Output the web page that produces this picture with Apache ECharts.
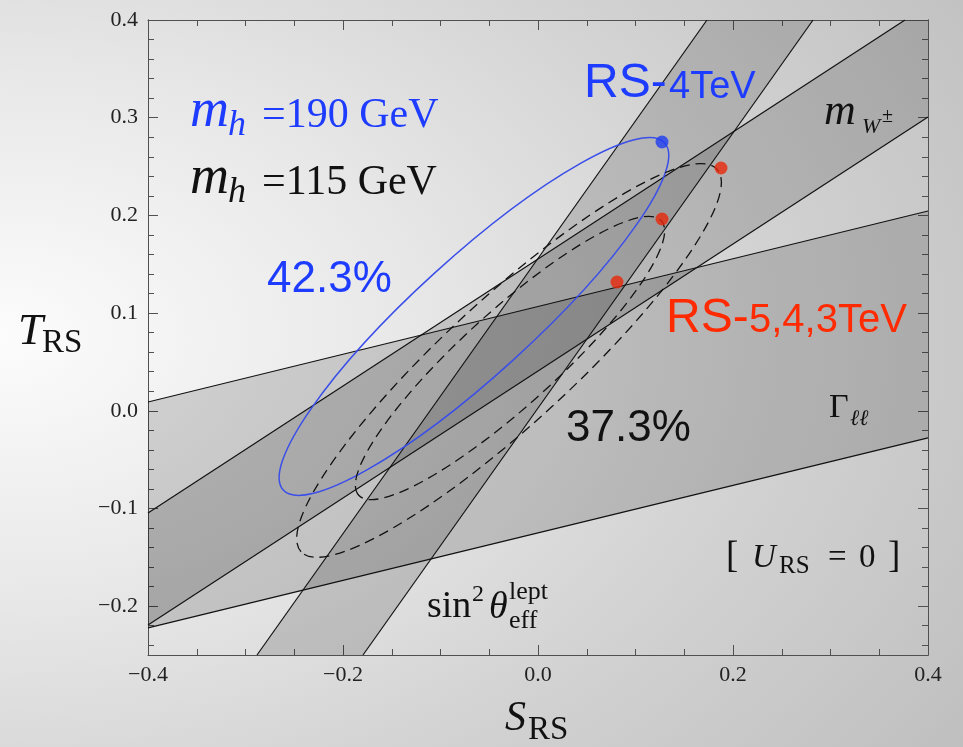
<!DOCTYPE html>
<html>
<head>
<meta charset="utf-8">
<script src="https://cdn.jsdelivr.net/npm/echarts@6/dist/echarts.min.js"></script>
<style>
  html, body {
    margin: 0;
    padding: 0;
  }
  body {
    width: 963px;
    height: 747px;
    background: radial-gradient(ellipse 120% 100% at 0% 45%, #fcfcfc 0%, #e8e8e8 35%, #d3d3d3 65%, #bfbfbf 100%);
  }
  #chart {
    width: 963px;
    height: 747px;
  }
</style>
</head>
<body>
<div id="chart"></div>
<script>
// axis ticks
const yMajorTicks = [-0.2, -0.1, 0, 0.1, 0.2, 0.3, 0.4];
const yMinorTicks = [
  -0.24, -0.22, -0.18, -0.16, -0.14, -0.12, -0.08, -0.06, -0.04, -0.02,
  0.02, 0.04, 0.06, 0.08, 0.12, 0.14, 0.16, 0.18, 0.22, 0.24, 0.26, 0.28,
  0.32, 0.34, 0.36, 0.38,
];

// band edges [S, T]
const sinLeft = [[-0.2882, -0.25], [0.1733, 0.4]];
const sinRight = [[-0.1795, -0.25], [0.2821, 0.4]];
const mwUpper = [[-0.4, -0.1046], [0.3764, 0.4]];
const mwLower = [[-0.4, -0.2192], [0.4, 0.3007]];
const gammaUpper = [[-0.4, 0.009], [0.4, 0.2045]];
const gammaLower = [[-0.4, -0.2223], [0.4, -0.0278]];
const plotCorner = [0.4, 0.4];

// ellipses: centre, semi axes, tilt (deg)
const ellipseCenters = [[-0.0657, 0.0965], [-0.0297, 0.0515], [-0.0287, 0.054]];
const ellipseAxes = [[0.2645, 0.06], [0.2898, 0.0645], [0.2095, 0.0484]];
const ellipseAngles = [42.3, 42.6, 42.2];

// RS points
const rsBlue = [[0.1272, 0.2751]];
const rsRed = [[0.1877, 0.2485], [0.1272, 0.1963], [0.081, 0.1318]];

const BAND_FILL = "rgba(0, 0, 0, 0.15)";
const AXIS_COLOR = "#505050";
const BLUE = "#1e3cff";
const RED = "#ff2a00";
const SERIF = "Liberation Serif";
const SANS = "Liberation Sans";

const bands = [
  [...sinLeft, ...sinRight.slice().reverse()],
  [...mwUpper, plotCorner, ...mwLower.slice().reverse()],
  [...gammaUpper, ...gammaLower.slice().reverse()],
];
const edges = [sinLeft, sinRight, mwUpper, mwLower, gammaUpper, gammaLower];
const ellipseStyles = [
  { stroke: "#3a4ee8", lineWidth: 1.5, fill: "none" },
  { stroke: "#111", lineWidth: 1.3, fill: "none", lineDash: [10, 6] },
  { stroke: "#111", lineWidth: 1.3, fill: "none", lineDash: [10, 6] },
];

function formatTick(value) {
  return value.toFixed(1).replace("-", "\u2212");
}

// one piece of text, placed by its baseline
function txt(x, baseline, text, size, opts = {}) {
  return {
    type: "text",
    x,
    y: baseline - 0.34 * size,
    silent: true,
    z: 100,
    style: {
      text,
      fill: opts.color || "#111",
      fontSize: size,
      fontFamily: opts.family || SERIF,
      fontStyle: opts.italic ? "italic" : "normal",
      align: "left",
      verticalAlign: "middle",
    },
  };
}

const tickLabel = {
  color: "#222",
  fontFamily: SERIF,
  fontSize: 22,
};

function xAxisBase(position) {
  return {
    type: "value",
    position,
    min: -0.4,
    max: 0.4,
    interval: 0.2,
    axisLine: { show: true, onZero: false, lineStyle: { color: AXIS_COLOR, width: 1 } },
    axisTick: { inside: true, length: 10, lineStyle: { color: AXIS_COLOR } },
    minorTick: { show: true, splitNumber: 4, length: 6, lineStyle: { color: AXIS_COLOR } },
    splitLine: { show: false },
    minorSplitLine: { show: false },
    axisLabel: position === "bottom"
      ? { ...tickLabel, margin: 9, formatter: formatTick }
      : { show: false },
  };
}

function yAxisBase(position, ticks, length, labels) {
  return {
    type: "value",
    position,
    min: -0.25,
    max: 0.4,
    axisLine: { show: true, onZero: false, lineStyle: { color: AXIS_COLOR, width: 1 } },
    axisTick: { inside: true, length, customValues: ticks, lineStyle: { color: AXIS_COLOR } },
    splitLine: { show: false },
    axisLabel: labels
      ? { ...tickLabel, margin: 10, customValues: ticks, formatter: formatTick }
      : { show: false },
  };
}

const chart = echarts.init(document.getElementById("chart"), null, { renderer: "canvas" });

const option = {
  animation: false,
  backgroundColor: "transparent",
  grid: { left: 148, right: 35, top: 20, bottom: 92, outerBoundsMode: "none" },
  xAxis: [xAxisBase("bottom"), xAxisBase("top")],
  yAxis: [
    yAxisBase("left", yMajorTicks, 10, true),
    yAxisBase("left", yMinorTicks, 6, false),
    yAxisBase("right", yMajorTicks, 10, false),
    yAxisBase("right", yMinorTicks, 6, false),
  ],
  series: [
    {
      type: "custom",
      name: "bands",
      silent: true,
      clip: true,
      z: 1,
      data: bands.map((b) => b[0]),
      renderItem: (params, api) => ({
        type: "polygon",
        shape: { points: bands[params.dataIndex].map((p) => api.coord(p)) },
        style: { fill: BAND_FILL },
      }),
    },
    ...edges.map((e) => ({
      type: "line",
      silent: true,
      z: 3,
      symbol: "none",
      data: e,
      lineStyle: { color: "#111", width: 1.2 },
    })),
    {
      type: "custom",
      name: "ellipses",
      silent: true,
      z: 4,
      data: ellipseCenters,
      renderItem: (params, api) => {
        const i = params.dataIndex;
        const c = api.coord(ellipseCenters[i]);
        const rx = api.size([ellipseAxes[i][0], 0])[0];
        const ry = api.size([0, ellipseAxes[i][1]])[1];
        return {
          type: "ellipse",
          x: c[0],
          y: c[1],
          rotation: (ellipseAngles[i] * Math.PI) / 180,
          shape: { cx: 0, cy: 0, rx, ry },
          style: ellipseStyles[i],
        };
      },
    },
    {
      type: "scatter",
      silent: true,
      z: 5,
      symbolSize: 13,
      data: rsBlue,
      itemStyle: { color: "#1e3cf0" },
    },
    {
      type: "scatter",
      silent: true,
      z: 5,
      symbolSize: 13,
      data: rsRed,
      itemStyle: { color: "#e8280a" },
    },
  ],
  graphic: [
    // legend-like notes
    txt(190, 130, "m", 54, { italic: true, color: BLUE }),
    txt(228, 138, "h", 36, { italic: true, color: BLUE }),
    txt(262, 130, "=190 GeV", 42, { color: BLUE }),
    txt(190, 197, "m", 54, { italic: true }),
    txt(228, 205, "h", 36, { italic: true }),
    txt(262, 197, "=115 GeV", 42),
    txt(267, 295, "42.3%", 44, { family: SANS, color: BLUE }),
    txt(566, 444, "37.3%", 44, { family: SANS }),
    txt(584, 100, "RS-", 48, { family: SANS, color: BLUE }),
    txt(669, 100, "4TeV", 38, { family: SANS, color: BLUE }),
    txt(666, 335, "RS-", 48, { family: SANS, color: RED }),
    txt(749, 335, "5,4,3TeV", 40, { family: SANS, color: RED }),
    // band labels
    txt(824, 127, "m", 44, { italic: true }),
    txt(862, 135, "W", 22, { italic: true }),
    txt(882, 124, "\u00b1", 20),
    txt(829, 420, "\u0393", 34),
    txt(850, 427, "\u2113\u2113", 22, { italic: true }),
    txt(427, 620, "sin", 38),
    txt(472, 603, "2", 24),
    txt(489, 621, "\u03b8", 38, { italic: true }),
    txt(509, 601, "lept", 26),
    txt(509, 630, "eff", 26),
    txt(726, 570, "[", 37),
    txt(752, 570, "U", 33, { italic: true }),
    txt(779, 575, "RS", 25),
    txt(828, 570, "=", 33),
    txt(859, 570, "0", 33),
    txt(888, 570, "]", 37),
    // axis titles
    txt(18, 347, "T", 45, { italic: true }),
    txt(42, 355, "RS", 33),
    txt(505, 733, "S", 42, { italic: true }),
    txt(528, 742, "RS", 33),
  ],
};

chart.setOption(option);
</script>
</body>
</html>
